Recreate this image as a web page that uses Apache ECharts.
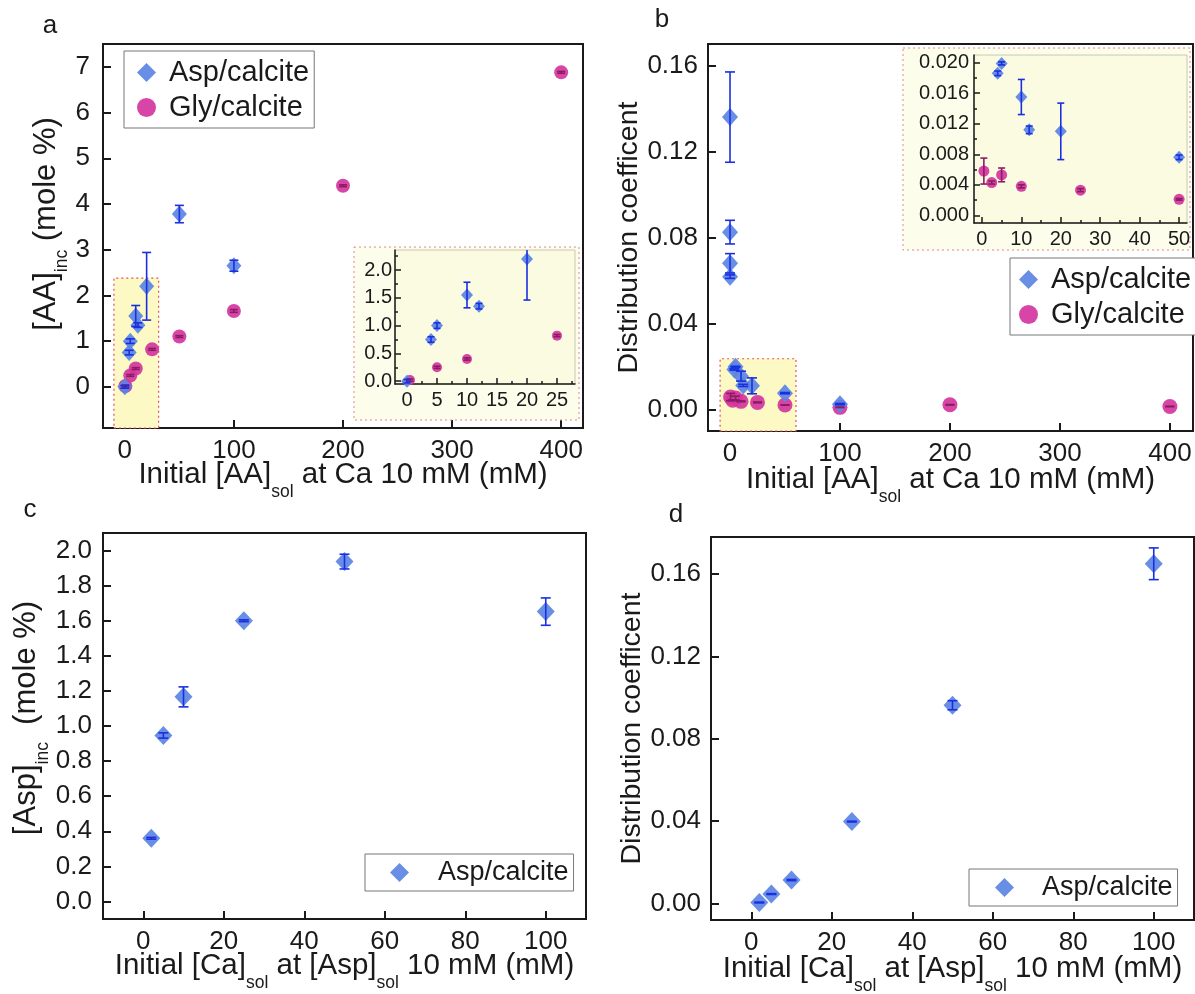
<!DOCTYPE html>
<html><head><meta charset="utf-8">
<script src="https://cdn.jsdelivr.net/npm/echarts@6/dist/echarts.min.js"></script>
<style>html,body{margin:0;padding:0;background:#fff}#c{width:1195px;height:994px}</style>
</head><body><div id="c"></div>
<script>
// ---------- Panel a : [AA]inc vs initial [AA]sol ----------
const aAspX   = [0, 4, 5, 10, 12, 20, 50, 100];
const aAspY   = [0.0, 0.75, 1.0, 1.55, 1.35, 2.2, 3.78, 2.65];
const aAspErr = [0.03, 0.05, 0.05, 0.23, 0.05, 0.74, 0.19, 0.12];
const aGlyX   = [0.5, 5, 10, 25, 50, 100, 200, 400];
const aGlyY   = [0.02, 0.25, 0.40, 0.82, 1.10, 1.66, 4.40, 6.88];
const aGlyErr = [0.02, 0.02, 0.02, 0.02, 0.02, 0.03, 0.02, 0.02];
// ---------- Panel b : distribution coefficient ----------
const bAspX   = [0.01, 0.02, 0.03, 0.05, 4, 5, 10, 12, 20, 50, 100];
const bAspY   = [0.136, 0.0825, 0.068, 0.0618, 0.0186, 0.0199, 0.0155, 0.0112, 0.0110, 0.0076, 0.0025];
const bAspErr = [0.021, 0.0055, 0.0045, 0.0008, 0.0003, 0.0002, 0.0023, 0.0005, 0.0037, 0.0003, 0.0003];
const bGlyX   = [0.5, 2.5, 5, 10, 25, 50, 100, 200, 400];
const bGlyY   = [0.0058, 0.0043, 0.0053, 0.0038, 0.0033, 0.0021, 0.0010, 0.0022, 0.0014];
const bGlyErr = [0.0017, 0.0002, 0.0009, 0.0002, 0.0002, 0.0001, 0.0001, 0.0001, 0.0001];
// ---------- Panel c ----------
const cX   = [2, 5, 10, 25, 50, 100];
const cY   = [0.36, 0.946, 1.166, 1.60, 1.937, 1.652];
const cErr = [0.005, 0.015, 0.057, 0.005, 0.042, 0.078];
// ---------- Panel d ----------
const dX   = [2, 5, 10, 25, 50, 100];
const dY   = [0.0005, 0.0046, 0.0114, 0.0398, 0.0963, 0.165];
const dErr = [0.0002, 0.0002, 0.0003, 0.0002, 0.0022, 0.0077];
// ---------- tick values ----------
const aXTicks  = [0, 100, 200, 300, 400];
const aYTicks  = [0, 1, 2, 3, 4, 5, 6, 7];
const aiXTicks = [0, 5, 10, 15, 20, 25];
const aiYTicks = [0, 0.5, 1.0, 1.5, 2.0];
const aiXMinor = [2.5, 7.5, 12.5, 17.5, 22.5, 27.5];
const aiYMinor = [0.25, 0.75, 1.25, 1.75, 2.25];
const bXTicks  = [0, 100, 200, 300, 400];
const bYTicks  = [0, 0.04, 0.08, 0.12, 0.16];
const biXTicks = [0, 10, 20, 30, 40, 50];
const biYTicks = [0, 0.004, 0.008, 0.012, 0.016, 0.020];
const biXMinor = [5, 15, 25, 35, 45];
const biYMinor = [0.002, 0.006, 0.010, 0.014, 0.018];
const cXTicks  = [0, 20, 40, 60, 80, 100];
const cYTicks  = [0, 0.2, 0.4, 0.6, 0.8, 1.0, 1.2, 1.4, 1.6, 1.8, 2.0];
const dXTicks  = [0, 20, 40, 60, 80, 100];
const dYTicks  = [0, 0.04, 0.08, 0.12, 0.16];

const FONT = '"Liberation Sans", Arial, Helvetica, sans-serif';
const INK = '#1a1a1a';
const ASP = '#5b84e4', GLY = '#d4359f', ASPE = '#1b2fe0', GLYE = '#8a1d62';
const zip = (xs, ys, es) => xs.map((x, i) => es ? [x, ys[i], es[i]] : [x, ys[i]]);

function nameStyle(fs, sub, pad) {
  return {fontSize: fs, fontFamily: FONT, color: INK, padding: pad || 0, rich: {
    n: {fontSize: fs, fontFamily: FONT, color: INK, lineHeight: 34, verticalAlign: 'top'},
    s: {fontSize: sub, fontFamily: FONT, color: INK, lineHeight: 17, padding: [30, 0, 0, 0]}
  }};
}
function mkAxis(kind, grid, min, max, ticks, dec, o) {
  o = o || {};
  const lw = o.lw || 2;
  const ax = {
    type: 'value', gridIndex: grid, min: min, max: max, z: o.z || 0,
    position: kind === 'x' ? 'bottom' : 'left',
    axisLine: {show: o.line !== false, onZero: false, lineStyle: {color: INK, width: lw}},
    axisTick: {show: true, inside: true, length: o.tl || 8, customValues: ticks, lineStyle: {color: INK, width: lw}},
    axisLabel: {show: o.label !== false, customValues: ticks, formatter: v => v.toFixed(dec),
      fontSize: o.fs || 26, fontFamily: FONT, color: INK, margin: o.margin || 10},
    splitLine: {show: false},
    name: o.name || '', nameLocation: 'middle', nameGap: o.gap || 30,
    nameTextStyle: nameStyle(o.nfs || 29.5, 17.5, o.npad)
  };
  if (o.noMove) ax.nameMoveOverlap = false;
  return ax;
}
function scat(name, xi, sym, size, color, xs, ys, z) {
  return {type: 'scatter', name: name, xAxisIndex: xi, yAxisIndex: xi, symbol: sym, symbolSize: size,
    itemStyle: {color: color, opacity: 0.92}, data: zip(xs, ys), z: z || 3, silent: true, clip: true};
}
function errS(xi, xs, ys, es, color, cap, z) {
  return {type: 'custom', xAxisIndex: xi, yAxisIndex: xi, clip: true, z: z || 4, silent: true,
    data: zip(xs, ys, es), encode: {x: 0, y: 1},
    renderItem: (p, api) => {
      const x = api.value(0), y = api.value(1), e = api.value(2);
      const t = api.coord([x, y + e]), b = api.coord([x, y - e]), h = cap / 2;
      const st = {stroke: color, lineWidth: 1.6};
      return {type: 'group', children: [
        {type: 'line', shape: {x1: t[0], y1: t[1], x2: b[0], y2: b[1]}, style: st},
        {type: 'line', shape: {x1: t[0] - h, y1: t[1], x2: t[0] + h, y2: t[1]}, style: st},
        {type: 'line', shape: {x1: b[0] - h, y1: b[1], x2: b[0] + h, y2: b[1]}, style: st}
      ]};
    }};
}
function areaS(xi, x0, x1, y1) {
  return {type: 'scatter', xAxisIndex: xi, yAxisIndex: xi, data: [], z: 1, silent: true,
    markArea: {silent: true, itemStyle: {color: '#fcf9c4', borderColor: '#e4505e', borderWidth: 1.2, borderType: [2, 3]},
      data: [[{xAxis: x0, yAxis: 'min'}, {xAxis: x1, yAxis: y1}]]}};
}
const legendBase = (o) => Object.assign({orient: 'vertical', selectedMode: false,
  backgroundColor: '#fff', borderColor: '#777', borderWidth: 1, borderRadius: 0}, o);

const sub = (a, b, c) => '{n|' + a + '}{s|' + b + '}{n|' + c + '}';
const G = (o) => Object.assign({show: true, outerBoundsMode: 'none', containLabel: false}, o);

const option = {
  animation: false,
  backgroundColor: '#fff',
  grid: [
    G({left: 103, top: 44, width: 480, height: 384, borderColor: INK, borderWidth: 2, z: 0}),
    G({left: 395, top: 250, width: 180, height: 134, borderColor: '#c8c8b0', borderWidth: 1, backgroundColor: '#fbfbe2', z: 2}),
    G({left: 708, top: 44, width: 485, height: 387, borderColor: INK, borderWidth: 2, z: 0}),
    G({left: 974, top: 55, width: 213, height: 168, borderColor: '#c8c8b0', borderWidth: 1, backgroundColor: '#fbfbe2', z: 2}),
    G({left: 103, top: 533, width: 483, height: 386, borderColor: INK, borderWidth: 2, z: 0}),
    G({left: 711, top: 537, width: 483, height: 383, borderColor: INK, borderWidth: 2, z: 0})
  ],
  xAxis: [
    mkAxis('x', 0, -20, 420, aXTicks, 0, {name: sub('Initial [AA]', 'sol', ' at Ca 10 mM (mM)'), gap: 32, noMove: true}),
    mkAxis('x', 1, -2, 28, aiXTicks, 0, {fs: 20, tl: 6, lw: 1.5, margin: 6, z: 3}),
    mkAxis('x', 2, -20, 421, bXTicks, 0, {name: sub('Initial [AA]', 'sol', ' at Ca 10 mM (mM)'), gap: 34, noMove: true}),
    mkAxis('x', 3, -2, 52, biXTicks, 0, {fs: 20, tl: 6, lw: 1.5, margin: 6, z: 3}),
    mkAxis('x', 4, -10, 110, cXTicks, 0, {name: '{n|Initial [Ca]}{s|sol}{n| at [Asp]}{s|sol}{n| 10 mM (mM)}', gap: 32, noMove: true}),
    mkAxis('x', 5, -10, 110, dXTicks, 0, {name: '{n|Initial [Ca]}{s|sol}{n| at [Asp]}{s|sol}{n| 10 mM (mM)}', gap: 34, noMove: true}),
    mkAxis('x', 1, -2, 28, aiXMinor, 0, {line: false, label: false, tl: 3, lw: 1.5, z: 3}),
    mkAxis('x', 3, -2, 52, biXMinor, 0, {line: false, label: false, tl: 3, lw: 1.5, z: 3})
  ],
  yAxis: [
    mkAxis('y', 0, -0.9, 7.5, aYTicks, 0, {name: sub('[AA]', 'inc', ' (mole %)'), gap: 28, margin: 13, nfs: 31, npad: [0, 0, 0, 24]}),
    mkAxis('y', 1, -0.05, 2.36, aiYTicks, 1, {fs: 20, tl: 6, lw: 1.5, margin: 3, z: 3}),
    mkAxis('y', 2, -0.01, 0.17, bYTicks, 2, {name: 'Distribution coefficent', gap: 41, margin: 10, nfs: 28.5}),
    mkAxis('y', 3, -0.001, 0.021, biYTicks, 3, {fs: 20, tl: 6, lw: 1.5, margin: 5, z: 3}),
    mkAxis('y', 4, -0.1, 2.1, cYTicks, 1, {name: sub('[Asp]', 'inc', '  (mole %)'), gap: 50, margin: 11, nfs: 31, npad: [0, 0, 0, 16]}),
    mkAxis('y', 5, -0.008, 0.178, dYTicks, 2, {name: 'Distribution coefficent', gap: 44, margin: 10, nfs: 28.5}),
    mkAxis('y', 1, -0.05, 2.36, aiYMinor, 0, {line: false, label: false, tl: 3, lw: 1.5, z: 3}),
    mkAxis('y', 3, -0.001, 0.021, biYMinor, 0, {line: false, label: false, tl: 3, lw: 1.5, z: 3})
  ],
  legend: [
    legendBase({left: 124, top: 51, itemGap: 6, itemWidth: 19, itemHeight: 19, padding: [7, 5, 6, 13],
      textStyle: {fontSize: 29, fontFamily: FONT, color: INK, lineHeight: 28, padding: [0, 0, 0, 8]},
      data: ['Asp/calcite', 'Gly/calcite']}),
    legendBase({left: 1010, top: 258, itemGap: 6, itemWidth: 19, itemHeight: 19, padding: [7, 5, 6, 9],
      textStyle: {fontSize: 29, fontFamily: FONT, color: INK, lineHeight: 28, padding: [0, 0, 0, 8]},
      data: ['Asp/calcite', 'Gly/calcite']}),
    legendBase({left: 365, top: 854, itemWidth: 19, itemHeight: 19, padding: [5, 5, 5, 25],
      textStyle: {fontSize: 27, fontFamily: FONT, color: INK, lineHeight: 27, padding: [0, 0, 0, 24]},
      data: ['Asp/calcite']}),
    legendBase({left: 969, top: 869, itemWidth: 19, itemHeight: 19, padding: [5, 5, 5, 26],
      textStyle: {fontSize: 27, fontFamily: FONT, color: INK, lineHeight: 27, padding: [0, 0, 0, 23]},
      data: ['Asp/calcite']})
  ],
  graphic: [
    {type: 'rect', z: 1, silent: true, shape: {x: 354, y: 247, width: 225, height: 173},
      style: {fill: '#fdfdec', stroke: '#e4868c', lineWidth: 1, lineDash: [2, 3]}},
    {type: 'rect', z: 1, silent: true, shape: {x: 903, y: 48, width: 287, height: 202},
      style: {fill: '#fdfdec', stroke: '#e4868c', lineWidth: 1, lineDash: [2, 3]}},
    {type: 'text', silent: true, x: 50, y: 26, style: {text: 'a', fontSize: 26, fontFamily: FONT, fill: INK, align: 'center', verticalAlign: 'middle'}},
    {type: 'text', silent: true, x: 662, y: 20, style: {text: 'b', fontSize: 26, fontFamily: FONT, fill: INK, align: 'center', verticalAlign: 'middle'}},
    {type: 'text', silent: true, x: 30, y: 510, style: {text: 'c', fontSize: 26, fontFamily: FONT, fill: INK, align: 'center', verticalAlign: 'middle'}},
    {type: 'text', silent: true, x: 676, y: 515, style: {text: 'd', fontSize: 26, fontFamily: FONT, fill: INK, align: 'center', verticalAlign: 'middle'}}
  ],
  series: [
    // a main
    areaS(0, -10, 31, 2.38),
    scat('Gly/calcite', 0, 'circle', 14, GLY, aGlyX, aGlyY),
    scat('Asp/calcite', 0, 'diamond', [15, 17], ASP, aAspX, aAspY),
    errS(0, aGlyX, aGlyY, aGlyErr, GLYE, 8),
    errS(0, aAspX, aAspY, aAspErr, ASPE, 9),
    // a inset
    scat('Gly/calcite', 1, 'circle', 10, GLY, aGlyX, aGlyY, 5),
    scat('Asp/calcite', 1, 'diamond', [12, 13], ASP, aAspX, aAspY, 5),
    errS(1, aGlyX, aGlyY, aGlyErr, GLYE, 7, 6),
    errS(1, aAspX, aAspY, aAspErr, ASPE, 7, 6),
    // b main
    areaS(2, -9, 60, 0.0236),
    scat('Gly/calcite', 2, 'circle', 15, GLY, bGlyX, bGlyY),
    scat('Asp/calcite', 2, 'diamond', [16, 18], ASP, bAspX, bAspY),
    errS(2, bGlyX, bGlyY, bGlyErr, GLYE, 9),
    errS(2, bAspX, bAspY, bAspErr, ASPE, 10),
    // b inset
    scat('Gly/calcite', 3, 'circle', 11, GLY, bGlyX, bGlyY, 5),
    scat('Asp/calcite', 3, 'diamond', [12, 13], ASP, bAspX, bAspY, 5),
    errS(3, bGlyX, bGlyY, bGlyErr, GLYE, 7, 6),
    errS(3, bAspX, bAspY, bAspErr, ASPE, 7, 6),
    // c
    scat('Asp/calcite', 4, 'diamond', [18, 19], ASP, cX, cY),
    errS(4, cX, cY, cErr, ASPE, 10),
    // d
    scat('Asp/calcite', 5, 'diamond', [18, 19], ASP, dX, dY),
    errS(5, dX, dY, dErr, ASPE, 10)
  ]
};
const chart = echarts.init(document.getElementById('c'));
chart.setOption(option);
</script>
</body></html>
